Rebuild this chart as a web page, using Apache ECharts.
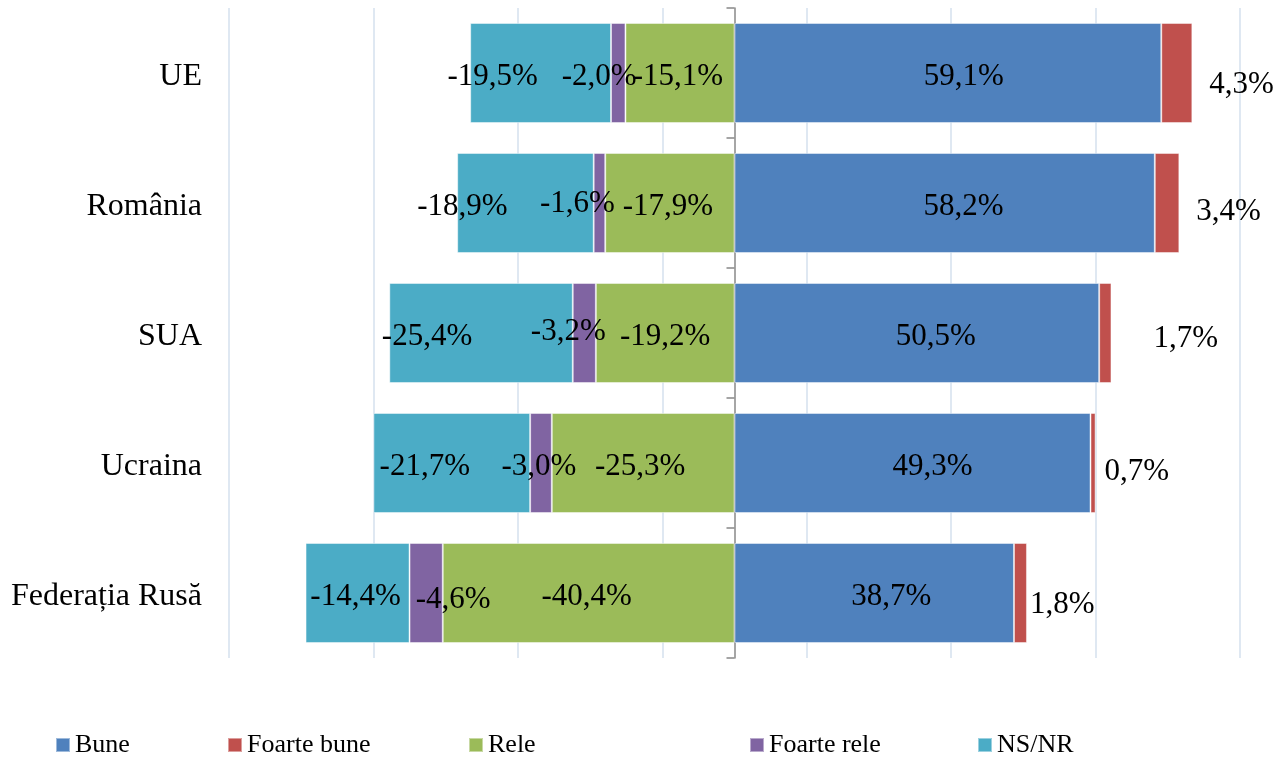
<!DOCTYPE html>
<html>
<head>
<meta charset="utf-8">
<title>Aprecieri</title>
<script src="https://cdn.jsdelivr.net/npm/echarts@6.0.0/dist/echarts.min.js"></script>
<style>
    html, body { margin: 0; padding: 0; background: #fff; }
    #barcontainer { width: 1287px; height: 760px; }
</style>
</head>
<body>
<div id="barcontainer"></div>
<script>
    "use strict";
    // datele graficului
    var tari = ['UE', 'România', 'SUA', 'Ucraina', 'Federația Rusă'];
    var bune = [59.1, 58.2, 50.5, 49.3, 38.7];
    var foarteBune = [4.3, 3.4, 1.7, 0.7, 1.8];
    var rele = [-15.1, -17.9, -19.2, -25.3, -40.4];
    var foarteRele = [-2.0, -1.6, -3.2, -3.0, -4.6];
    var nsnr = [-19.5, -18.9, -25.4, -21.7, -14.4];

    // etichetele sunt mutate manual in original (px)
    var mutBune = [[16, 4], [19, 4], [19, 4], [20, 4], [17, 4]];
    var mutFoarteBune = [[17, 12], [17, 9], [42, 6], [9, 9], [3, 12]];
    var mutRele = [[-2, 4], [-2, 4], [0, 4], [-3, 4], [-2, 4]];
    var mutFoarteRele = [[-19, 4], [-22, 1], [-16, -1], [-2, 4], [27, 7]];
    var mutNsnr = [[-48, 4], [-63, 4], [-54, 4], [-27, 4], [-2, 4]];

    var font = "'Liberation Serif', 'Times New Roman', serif";

    function eticheta(p) {
        return p.value.toFixed(1).replace('.', ',') + '%';
    }

    function serie(nume, valori, culoare, mutari, pozitie) {
        var date = [];
        for (var i = 0; i < valori.length; i++) {
            date.push({ value: valori[i], label: { offset: mutari[i] } });
        }
        return {
            name: nume,
            type: 'bar',
            stack: 'total',
            barWidth: 100,
            itemStyle: { color: culoare, borderColor: 'rgba(255,255,255,0.45)', borderWidth: 1 },
            label: {
                show: true,
                position: pozitie,
                distance: 0,
                fontFamily: font,
                fontSize: 31,
                color: '#000',
                formatter: eticheta
            },
            emphasis: { disabled: true },
            data: date
        };
    }

    function legenda(nume, stanga) {
        return {
            data: [nume],
            left: stanga,
            top: 732,
            padding: 0,
            icon: 'rect',
            itemWidth: 14,
            itemHeight: 14,
            selectedMode: false,
            textStyle: { fontFamily: font, fontSize: 26, color: '#000', padding: [4, 0, 0, 0] }
        };
    }

    var barChart = echarts.init(document.getElementById('barcontainer'));
    var option = {
        animation: false,
        backgroundColor: '#fff',
        grid: { left: 229, right: 47, top: 8, bottom: 102 },
        legend: [
            legenda('Bune', 55),
            legenda('Foarte bune', 227),
            legenda('Rele', 468),
            legenda('Foarte rele', 749),
            legenda('NS/NR', 977)
        ],
        xAxis: {
            type: 'value',
            min: -70,
            max: 70,
            interval: 20,
            axisLabel: { show: false },
            axisLine: { show: false },
            axisTick: { show: false },
            splitLine: { show: true, lineStyle: { color: '#D5E0EE', width: 1.5 } }
        },
        yAxis: [
            {
                type: 'category',
                data: tari,
                inverse: true,
                position: 'left',
                axisLine: { show: false, onZero: false },
                axisTick: { show: false },
                axisLabel: {
                    fontFamily: font, fontSize: 32, color: '#000', margin: 27,
                    verticalAlign: 'top', lineHeight: 8
                }
            },
            {
                type: 'category',
                data: tari,
                inverse: true,
                position: 'left',
                axisLine: { show: true, onZero: true, lineStyle: { color: '#888', width: 1.5 } },
                axisTick: { show: true, length: 8, lineStyle: { color: '#888', width: 1.5 } },
                axisLabel: { show: false }
            }
        ],
        series: [
            serie('Bune', bune, '#4F81BD', mutBune, 'inside'),
            serie('Foarte bune', foarteBune, '#C0504D', mutFoarteBune, 'right'),
            serie('Rele', rele, '#9BBB59', mutRele, 'inside'),
            serie('Foarte rele', foarteRele, '#8064A2', mutFoarteRele, 'inside'),
            serie('NS/NR', nsnr, '#4BACC6', mutNsnr, 'inside')
        ]
    };
    barChart.setOption(option);
</script>
</body>
</html>
